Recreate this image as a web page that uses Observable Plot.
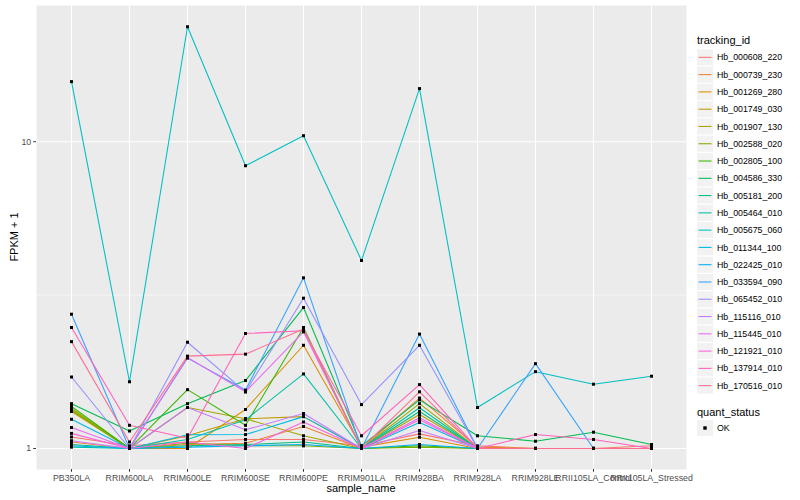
<!DOCTYPE html>
<html><head><meta charset="utf-8">
<script src="https://cdn.jsdelivr.net/npm/d3@7"></script>
<script src="https://cdn.jsdelivr.net/npm/@observablehq/plot@0.6"></script>
<style>
body{margin:0;background:#fff;font-family:"Liberation Sans",Arial,sans-serif;}
#wrap{position:relative;width:800px;height:500px;overflow:hidden;}
#legend{position:absolute;left:690px;top:0;}
.atitle{position:absolute;font-size:11px;color:#000;white-space:nowrap;}
</style></head><body>
<div id="wrap"><div id="chart"></div><svg id="legend" width="110" height="500"></svg>
<div class="atitle" id="xt" style="left:361px;top:482px;transform:translateX(-50%);">sample_name</div>
<div class="atitle" id="yt" style="left:14px;top:237px;transform:translate(-50%,-50%) rotate(-90deg);">FPKM + 1</div>
</div>
<script>
const samples = ["PB350LA","RRIM600LA","RRIM600LE","RRIM600SE","RRIM600PE","RRIM901LA","RRIM928BA","RRIM928LA","RRIM928LE","RRII105LA_Control","RRII105LA_Stressed"];
const trackingIds = ["Hb_000608_220","Hb_000739_230","Hb_001269_280","Hb_001749_030","Hb_001907_130","Hb_002588_020","Hb_002805_100","Hb_004586_330","Hb_005181_200","Hb_005464_010","Hb_005675_060","Hb_011344_100","Hb_022425_010","Hb_033594_090","Hb_065452_010","Hb_115116_010","Hb_115445_010","Hb_121921_010","Hb_137914_010","Hb_170516_010"];
const colors = ["#F8766D","#EA8331","#D89000","#C09B00","#A3A500","#7CAE00","#39B600","#00BB4E","#00BF7D","#00C1A3","#00BFC4","#00BAE0","#00B0F6","#35A2FF","#9590FF","#C77CFF","#E76BF3","#FA62DB","#FF62BC","#FF6C91"];
const yTicks = [1, 10];
const yMinor = [3.1623];

// FPKM + 1 per sample, in the order of `samples`
const v00 = [1.09, 1.02, 1.05, 1.07, 1.07, 1.02, 1.116, 1.02, 1.0, 1.0, 1.02];
const v01 = [1.05, 1.0, 1.03, 1.04, 1.18, 1.0, 1.46, 1.01, 1.0, 1.0, 1.0];
const v02 = [1.34, 1.0, 1.0, 1.34, 2.17, 1.01, 1.088, 1.0, 1.0, 1.0, 1.0];
const v03 = [1.32, 1.0, 1.10, 1.25, 1.27, 1.0, 1.29, 1.0, 1.0, 1.0, 1.0];
const v04 = [1.35, 1.0, 1.36, 1.25, 1.10, 1.0, 1.40, 1.0, 1.0, 1.0, 1.0];
const v05 = [1.33, 1.0, 1.04, 1.02, 1.02, 1.0, 1.01, 1.0, 1.0, 1.0, 1.0];
const v06 = [1.37, 1.0, 1.555, 1.19, 2.48, 1.0, 1.02, 1.0, 1.0, 1.0, 1.0];
const v07 = [1.40, 1.14, 1.40, 1.665, 2.88, 1.02, 1.44, 1.10, 1.056, 1.13, 1.03];
const v08 = [1.03, 1.0, 1.02, 1.03, 1.05, 1.0, 1.32, 1.0, 1.0, 1.0, 1.0];
const v09 = [1.01, 1.0, 1.07, 1.24, 1.75, 1.0, 1.357, 1.0, 1.0, 1.0, 1.0];
const v10 = [15.7, 1.65, 23.7, 8.35, 10.46, 4.10, 14.9, 1.36, 1.78, 1.62, 1.72];
const v11 = [1.245, 1.0, 1.108, 1.11, 1.27, 1.0, 1.215, 1.0, 1.0, 1.0, 1.0];
const v12 = [1.02, 1.0, 1.01, 1.02, 1.03, 1.0, 1.03, 1.0, 1.0, 1.0, 1.0];
const v13 = [2.74, 1.0, 1.97, 1.55, 3.60, 1.0, 2.36, 1.0, 1.89, 1.0, 1.0];
const v14 = [1.71, 1.0, 2.22, 1.53, 3.09, 1.39, 2.17, 1.0, 1.0, 1.0, 1.0];
const v15 = [1.06, 1.0, 1.36, 1.15, 1.30, 1.0, 1.144, 1.0, 1.0, 1.0, 1.0];
const v16 = [1.17, 1.0, 1.98, 1.53, 2.40, 1.0, 1.26, 1.0, 1.0, 1.0, 1.0];
const v17 = [1.12, 1.0, 1.05, 1.0, 1.22, 1.0, 1.24, 1.0, 1.0, 1.0, 1.0];
const v18 = [2.48, 1.19, 1.08, 2.37, 2.42, 1.10, 1.615, 1.0, 1.11, 1.07, 1.0];
const v19 = [2.23, 1.05, 2.0, 2.03, 2.45, 1.0, 1.53, 1.0, 1.0, 1.0, 1.0];
const seriesValues = [v00,v01,v02,v03,v04,v05,v06,v07,v08,v09,v10,v11,v12,v13,v14,v15,v16,v17,v18,v19];

const data = [];
trackingIds.forEach((id, i) => samples.forEach((s, j) =>
  data.push({tracking_id: id, sample_name: s, value: seriesValues[i][j], quant_status: "OK"})));

const chart = Plot.plot({
  width: 800, height: 500,
  marginLeft: 36, marginRight: 114, marginTop: 5, marginBottom: 31,
  style: {fontFamily: "Liberation Sans, Arial, sans-serif", fontSize: "8.8px", background: "white"},
  x: {type: "point", domain: samples, padding: 0.6},
  y: {type: "log", domain: [0.854, 27.8]},
  color: {domain: trackingIds, range: colors},
  marks: [
    Plot.frame({fill: "#EBEBEB", stroke: "none"}),
    Plot.gridY(yMinor, {stroke: "white", strokeOpacity: 1, strokeWidth: 0.55}),
    Plot.gridY(yTicks, {stroke: "white", strokeOpacity: 1, strokeWidth: 1.1}),
    Plot.gridX(samples, {stroke: "white", strokeOpacity: 1, strokeWidth: 1.1}),
    Plot.line(data, {x: "sample_name", y: "value", z: "tracking_id", stroke: "tracking_id", strokeWidth: 1.07}),
    Plot.dot(data, {x: "sample_name", y: "value", symbol: "square", r: 1.7, fill: "black", stroke: "none"}),
    Plot.axisX(samples, {tickSize: 2.75, tickPadding: 2.5, stroke: "#333333", fill: "#4D4D4D", label: null}),
    Plot.axisY(yTicks, {tickSize: 2.75, tickPadding: 2.5, stroke: "#333333", fill: "#4D4D4D", tickFormat: d => String(d), label: null})
  ]
});
document.getElementById("chart").appendChild(chart);

// legend
const lg = d3.select("#legend");
const ff = "Liberation Sans, Arial, sans-serif";
lg.append("text").attr("x", 7).attr("y", 44).attr("font-size", 11).attr("font-family", ff).text("tracking_id");
const keyH = 17.28, y0 = 48.7;
trackingIds.forEach((id, i) => {
  const y = y0 + i * keyH;
  lg.append("rect").attr("x", 7).attr("y", y + 0.6).attr("width", 16).attr("height", 16).attr("fill", "#F2F2F2");
  lg.append("line").attr("x1", 8.5).attr("x2", 21.5).attr("y1", y + keyH/2).attr("y2", y + keyH/2)
    .attr("stroke", colors[i]).attr("stroke-width", 1.07);
  lg.append("text").attr("x", 27).attr("y", y + keyH/2 + 3.1).attr("font-size", 8.8).attr("font-family", ff).text(id);
});
lg.append("text").attr("x", 7).attr("y", 415.5).attr("font-size", 11).attr("font-family", ff).text("quant_status");
lg.append("rect").attr("x", 7).attr("y", 420).attr("width", 16).attr("height", 16).attr("fill", "#F2F2F2");
lg.append("rect").attr("x", 13.3).attr("y", 426.3).attr("width", 3.4).attr("height", 3.4).attr("fill", "black");
lg.append("text").attr("x", 27).attr("y", 431.1).attr("font-size", 8.8).attr("font-family", ff).text("OK");
</script>
</body></html>
